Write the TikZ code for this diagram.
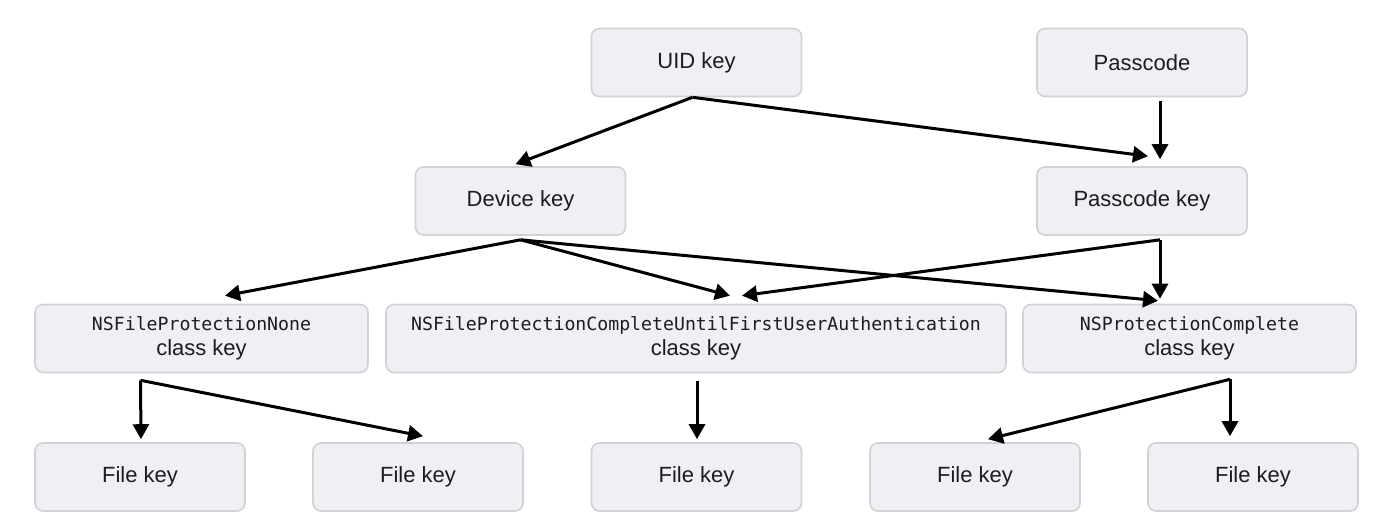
\documentclass[tikz,border=0pt]{standalone}
\usepackage{fontspec}
\usepackage{tikz}
\usetikzlibrary{arrows.meta}

\setmainfont{Liberation Sans}
\newfontfamily\codefont{DejaVu Sans Mono}
\definecolor{boxfill}{HTML}{EFEFF4}
\definecolor{boxline}{HTML}{D1D1D6}
\definecolor{ink}{HTML}{1D1D1F}
\newcommand{\clskey}[1]{{\codefont\fontsize{9.1}{12.5}\selectfont #1}\\class key}

\begin{document}
\begin{tikzpicture}[x=.5pt,y=-.5pt,
    keybox/.style={draw=boxline,fill=boxfill,line width=.8pt,rounded corners=4pt,
      text=ink,align=center,font=\fontsize{11}{12.5}\selectfont,
      minimum width=105pt,minimum height=34pt},
    link/.style={line width=1.5pt,-{Triangle[length=7.5pt,width=8pt]}}]
  \useasboundingbox (0,0) rectangle (1382,526);

  \node[keybox] (uid) at (696.5,62.5) {UID key};
  \node[keybox] (pc)  at (1142,62.5) {Passcode};
  \node[keybox] (dev) at (520.5,201) {Device key};
  \node[keybox] (pck) at (1142,201) {Passcode key};

  \node[keybox,minimum width=166.5pt] (none) at (201.5,338.5)
    {\clskey{NSFileProtectionNone}};
  \node[keybox,minimum width=310pt] (cufua) at (696,338.5)
    {\clskey{NSFileProtectionCompleteUntilFirstUserAuthentication}};
  \node[keybox,minimum width=166.5pt] (compl) at (1189.5,338.5)
    {\clskey{NSProtectionComplete}};

  \node[keybox] (f1) at (140,477) {File key};
  \node[keybox] (f2) at (418,477) {File key};
  \node[keybox] (f3) at (696.5,477) {File key};
  \node[keybox] (f4) at (975,477) {File key};
  \node[keybox] (f5) at (1253,477) {File key};

  \draw[link] ([shift={(-4,0)}]uid.south) -- ([shift={(-5,-2)}]dev.north);
  \draw[link] ([shift={(-4,0)}]uid.south) -- ([shift={(6,-10)}]pck.north);
  \draw[link] ([shift={(18,4)}]pc.south) -- ([shift={(18,-7)}]pck.north);

  \draw[link] ([shift={(0,4)}]dev.south) -- ([shift={(23.5,-8)}]none.north);
  \draw[link] ([shift={(0,4)}]dev.south) -- ([shift={(34,-8)}]cufua.north);
  \draw[link] ([shift={(0,4)}]dev.south) -- ([shift={(-31.5,-3)}]compl.north);
  \draw[link] ([shift={(18,4)}]pck.south) -- ([shift={(46,-8)}]cufua.north);
  \draw[link] ([shift={(18,4)}]pck.south) -- ([shift={(-29.5,-5)}]compl.north);

  \draw[link] ([shift={(-61,7)}]none.south) -- ([shift={(1,-3)}]f1.north);
  \draw[link] ([shift={(-61,7)}]none.south) -- ([shift={(5,-6)}]f2.north);
  \draw[link] ([shift={(1,8)}]cufua.south) -- ([shift={(0.5,-3)}]f3.north);
  \draw[link] ([shift={(40.5,6)}]compl.south) -- ([shift={(13,-3)}]f4.north);
  \draw[link] ([shift={(40.5,6)}]compl.south) -- ([shift={(-23,-6)}]f5.north);
\end{tikzpicture}
\end{document}
